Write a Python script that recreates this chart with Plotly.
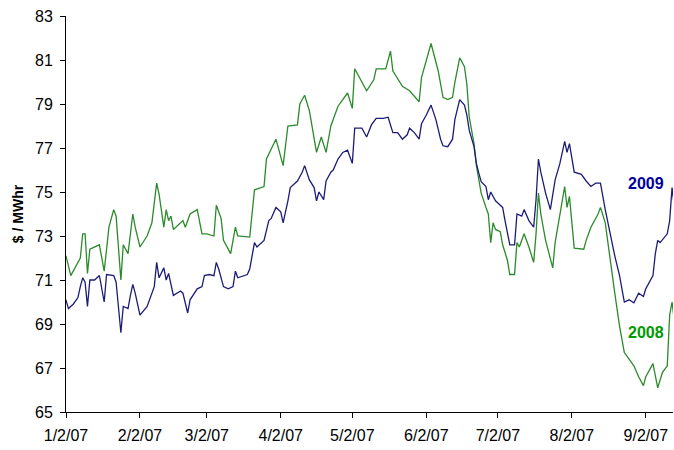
import pandas as pd
import plotly.graph_objects as go

start_date = "2007-01-02"

# 2008 series: day offsets from 1/2/07 and $/MWhr values
days_2008 = [0, 2, 6, 7, 8, 9, 10, 14, 16, 18, 20, 21, 23, 24, 26, 28, 29, 31, 34, 36,
             38, 39, 41, 42, 43, 44, 45, 49, 50, 52, 55, 56, 57, 59, 62, 63, 64, 65, 66, 69,
             71, 72, 77, 79, 83, 84, 88, 91, 93, 97, 98, 100, 102, 105, 107, 109, 111, 114, 118, 120,
             121, 126, 129, 130, 134, 136, 137, 141, 144, 148, 149, 153, 156, 158, 160, 162, 163, 165, 167, 168,
             169, 171, 172, 173, 174, 176, 177, 178, 179, 180, 182, 183, 185, 186, 188, 189, 190, 192, 194, 196,
             197, 198, 199, 201, 204, 205, 207, 209, 210, 211, 213, 217, 218, 220, 223, 224, 226, 228, 230, 232,
             234, 236, 238, 240, 242, 243, 246, 248, 250, 252, 253, 254, 255]
vals_2008 = [72.1, 71.2, 72.0, 73.1, 73.1, 71.3, 72.4, 72.6, 71.4, 73.4, 74.2, 73.9, 71.0, 72.6, 72.2, 74.0, 73.4, 72.5, 73.0, 73.6,
             75.4, 74.9, 73.4, 74.2, 73.7, 73.9, 73.3, 73.7, 73.4, 74.0, 74.2, 73.6, 73.1, 73.1, 73.0, 74.4, 74.1, 73.8, 72.8, 72.2,
             73.4, 73.0, 72.95, 75.1, 75.25, 76.5, 77.4, 76.2, 78.0, 78.05, 79.0, 79.4, 78.7, 76.8, 77.5, 76.8, 78.0, 78.9, 79.5, 78.8,
             80.6, 79.6, 80.1, 80.6, 80.6, 81.4, 80.5, 79.8, 79.6, 79.1, 80.2, 81.75, 80.5, 79.3, 79.2, 79.3, 80.0, 81.1, 80.7, 79.9,
             78.4, 77.2, 76.2, 75.55, 74.95, 74.3, 74.0, 72.7, 73.6, 73.3, 73.2, 72.6, 71.9, 71.25, 71.25, 72.7, 72.5, 73.1, 72.5, 71.8,
             73.1, 74.95, 74.0, 72.8, 71.55, 72.7, 74.0, 75.25, 74.3, 74.8, 72.45, 72.4, 72.8, 73.4, 74.0, 74.3, 73.6, 71.9, 70.4, 68.9,
             67.7, 67.4, 67.1, 66.6, 66.2, 66.6, 67.2, 66.1, 66.8, 67.1, 69.4, 70.0, 69.1]

# 2009 series
days_2009 = [0, 1, 3, 5, 6, 7, 8, 9, 10, 12, 14, 16, 17, 20, 21, 23, 24, 26, 27, 28,
             29, 31, 34, 37, 38, 39, 41, 42, 43, 45, 48, 49, 51, 52, 55, 57, 58, 60, 62, 63,
             64, 66, 68, 70, 71, 72, 76, 77, 79, 80, 83, 85, 86, 88, 90, 91, 93, 94, 97, 99,
             100, 102, 104, 105, 106, 108, 109, 111, 112, 114, 116, 118, 120, 121, 124, 126, 128, 130, 133, 135,
             137, 139, 141, 143, 144, 146, 148, 149, 151, 153, 155, 157, 158, 160, 162, 163, 165, 167, 168, 169,
             171, 172, 173, 174, 176, 177, 178, 179, 180, 181, 183, 184, 186, 188, 189, 191, 192, 194, 196, 197,
             198, 199, 201, 203, 205, 207, 209, 210, 211, 213, 216, 218, 220, 222, 224, 226, 228, 230, 232, 234,
             236, 238, 240, 242, 243, 246, 247, 248, 249, 252, 253, 254, 255]
vals_2009 = [70.1, 69.7, 69.9, 70.2, 70.7, 71.1, 70.9, 69.8, 71.0, 71.0, 71.2, 70.0, 71.25, 71.2, 70.9, 68.6, 69.8, 69.7, 70.3, 70.8,
             70.4, 69.4, 69.8, 70.7, 71.8, 71.1, 71.55, 71.0, 71.3, 70.3, 70.5, 70.4, 69.5, 70.1, 70.6, 70.7, 71.2, 71.25, 71.2, 71.8,
             71.5, 70.7, 70.6, 70.7, 71.4, 71.1, 71.25, 71.5, 72.7, 72.5, 72.8, 73.7, 73.8, 74.3, 74.1, 73.6, 74.6, 75.2, 75.5, 75.9,
             76.2, 75.55, 75.2, 74.6, 75.0, 74.65, 75.5, 75.9, 76.0, 76.5, 76.8, 76.9, 76.3, 77.9, 77.9, 77.5, 78.05, 78.35, 78.35, 78.4,
             77.7, 77.7, 77.4, 77.6, 77.9, 77.7, 77.4, 78.1, 78.5, 78.95, 78.3, 77.4, 77.1, 77.06, 77.4, 78.3, 79.2, 78.95, 78.5, 77.8,
             77.06, 76.3, 75.86, 75.47, 75.25, 74.65, 75.0, 74.8, 74.6, 74.5, 74.3, 73.7, 72.6, 72.6, 74.0, 73.9, 74.2, 73.7, 73.4, 74.65,
             76.5, 75.9, 74.95, 74.2, 75.55, 76.3, 77.3, 76.8, 77.2, 75.9, 75.8, 75.5, 75.25, 75.4, 75.4, 74.2, 73.1, 72.1, 71.2, 70.0,
             70.1, 69.96, 70.4, 70.25, 70.6, 71.2, 72.2, 72.8, 72.7, 73.1, 73.7, 75.2, 74.3]

tick_dates = ["2007-01-02", "2007-02-02", "2007-03-02", "2007-04-02", "2007-05-02",
              "2007-06-02", "2007-07-02", "2007-08-02", "2007-09-02"]
tick_labels = ["1/2/07", "2/2/07", "3/2/07", "4/2/07", "5/2/07", "6/2/07", "7/2/07", "8/2/07", "9/2/07"]
y_ticks = [65, 67, 69, 71, 73, 75, 77, 79, 81, 83]

base = pd.Timestamp(start_date)
x08 = base + pd.to_timedelta(days_2008, unit="D")
x09 = base + pd.to_timedelta(days_2009, unit="D")

fig = go.Figure()
fig.add_trace(go.Scatter(x=x08, y=vals_2008, mode="lines", name="2008",
                         line=dict(color="#2b8a2b", width=1.3)))
fig.add_trace(go.Scatter(x=x09, y=vals_2009, mode="lines", name="2009",
                         line=dict(color="#1c1c78", width=1.3)))

x_end = base + pd.Timedelta(days=254.4)

fig.update_layout(
    width=674, height=450,
    margin=dict(l=66, r=1, t=16, b=38, autoexpand=False),
    paper_bgcolor="white", plot_bgcolor="white",
    showlegend=False,
    font=dict(family="Liberation Sans, Arial, sans-serif", size=16, color="black"),
    xaxis=dict(
        type="date", range=[base, x_end],
        tickvals=pd.to_datetime(tick_dates), ticktext=tick_labels,
        showgrid=False, zeroline=False,
        showline=True, linecolor="black", linewidth=1,
        ticks="outside", ticklen=5, tickcolor="black",
        tickfont=dict(size=16), ticklabelstandoff=4, automargin=False,
    ),
    yaxis=dict(
        range=[65, 83], tickvals=y_ticks,
        showgrid=False, zeroline=False,
        showline=True, linecolor="black", linewidth=1,
        ticks="outside", ticklen=5, tickcolor="black",
        tickfont=dict(size=16), ticklabelstandoff=4, automargin=False,
        title=dict(text="<b>$ / MWhr</b>", font=dict(size=14), standoff=8),
    ),
)

fig.add_annotation(x=base + pd.Timedelta(days=243), y=75.4, text="<b>2009</b>",
                   showarrow=False, font=dict(size=16, color="#0000a0"))
fig.add_annotation(x=base + pd.Timedelta(days=243), y=68.6, text="<b>2008</b>",
                   showarrow=False, font=dict(size=16, color="#009a00"))

fig.write_html("out.html", config={"displayModeBar": False},
               post_script="document.body.style.margin='0';document.body.style.overflow='hidden';")
